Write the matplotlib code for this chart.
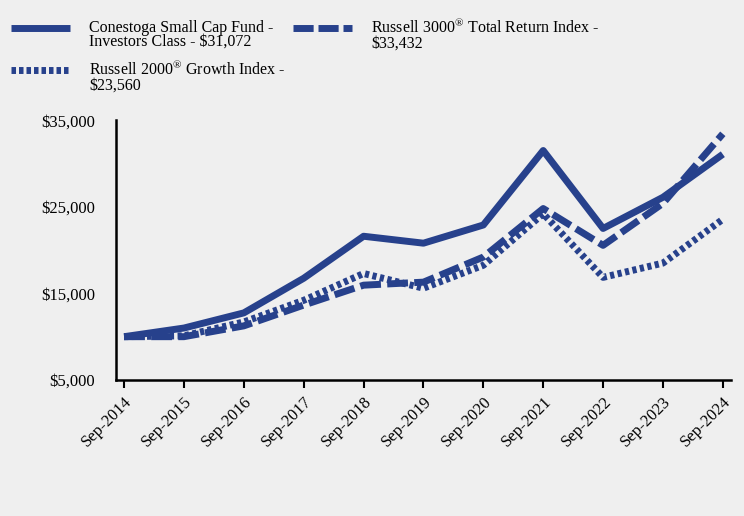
import numpy as np
import matplotlib
matplotlib.use('Agg')
import matplotlib.pyplot as plt
from matplotlib.lines import Line2D
from matplotlib.legend_handler import HandlerLine2D

plt.rcParams['font.family'] = ['Liberation Serif', 'DejaVu Serif']
plt.rcParams['mathtext.fontset'] = 'custom'
plt.rcParams['mathtext.rm'] = 'Liberation Serif'

# Data
years = ["Sep-2014", "Sep-2015", "Sep-2016", "Sep-2017", "Sep-2018", "Sep-2019",
         "Sep-2020", "Sep-2021", "Sep-2022", "Sep-2023", "Sep-2024"]
fund = [10000, 11000, 12750, 16750, 21600, 20800, 22900, 31500, 22500, 26100, 31072]
r3000 = [10000, 10000, 11250, 13650, 15950, 16300, 19200, 24800, 20550, 25400, 33432]
r2000g = [10000, 10100, 11700, 14200, 17300, 15600, 18250, 24200, 16850, 18500, 23560]

labels = ["Conestoga Small Cap Fund -\nInvestors Class - \\$31,072",
          "Russell 3000$^{\\mathrm{\u00ae}}$ Total Return Index -\n\\$33,432",
          "Russell 2000$^{\\mathrm{\u00ae}}$ Growth Index -\n\\$23,560"]

color = '#27418c'
bg = '#efefef'


class TopLineHandler(HandlerLine2D):
    # put the legend line next to the first text line instead of the middle
    def create_artists(self, legend, orig_handle, xdescent, ydescent,
                       width, height, fontsize, trans):
        return super().create_artists(legend, orig_handle, xdescent, ydescent - 11,
                                      width, height, fontsize, trans)


fig = plt.figure(figsize=(7.44, 5.16), dpi=100, facecolor=bg)
ax = fig.add_axes([0.156, 0.2636, 0.826, 0.5034], facecolor=bg)

x = np.arange(len(years))
ax.plot(x, r2000g, color=color, lw=5, linestyle=(0, (0.6, 0.5)), dash_capstyle='butt')
ax.plot(x, r3000, color=color, lw=5, linestyle=(0, (3, 0.9)), dash_capstyle='butt')
ax.plot(x, fund, color=color, lw=5, solid_capstyle='butt')

ax.set_ylim(5000, 35000)
ax.set_yticks([5000, 15000, 25000, 35000])
ax.set_yticklabels(['$5,000', '$15,000', '$25,000', '$35,000'])
ax.set_xlim(-0.134, 10.13)
ax.set_xticks(x)
ax.set_xticklabels(years, rotation=45, ha='right', rotation_mode='anchor')

ax.tick_params(axis='y', length=0, pad=15, labelsize=12)
ax.tick_params(axis='x', length=6, width=1.5, direction='out', pad=4, labelsize=12)
for s in ['top', 'right']:
    ax.spines[s].set_visible(False)
for s in ['left', 'bottom']:
    ax.spines[s].set_linewidth(1.8)
    ax.spines[s].set_color('black')

handles = [Line2D([], [], color=color, lw=5, solid_capstyle='butt'),
           Line2D([], [], color=color, lw=5, linestyle=(0, (2.9, 0.7)), dash_capstyle='butt'),
           Line2D([], [], color=color, lw=5, linestyle=(0, (0.65, 0.43)), dash_capstyle='butt')]
order = [0, 2, 1]
leg = fig.legend([handles[i] for i in order], [labels[i] for i in order],
                 loc='upper left', bbox_to_anchor=(0.0, 0.986), ncol=2, frameon=False,
                 fontsize=11.5, handlelength=3.7, handletextpad=1.2, columnspacing=0.45,
                 labelspacing=0.65, borderaxespad=0.3,
                 handler_map={Line2D: TopLineHandler()})
for t in leg.get_texts():
    t.set_linespacing(0.85)

fig.savefig('out.png', dpi=100, facecolor=bg)
